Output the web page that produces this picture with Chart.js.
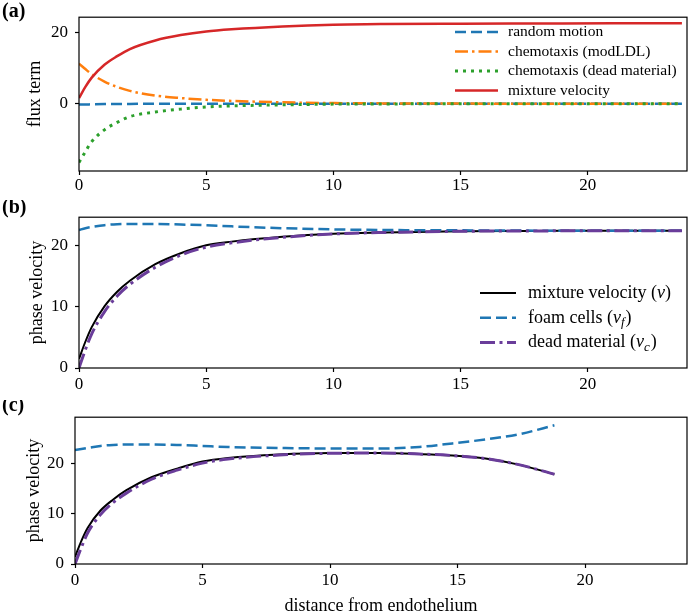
<!DOCTYPE html>
<html>
<head>
<meta charset="utf-8">
<script src="https://cdn.jsdelivr.net/npm/chart.js@4.4.1/dist/chart.umd.min.js"></script>
<style>
  body { margin: 0; background: #fff; }
  .panel { position: absolute; left: 0; width: 690px; }
</style>
</head>
<body>
<div class="panel" style="top:0;height:200px"><canvas id="chartA"></canvas></div>
<div class="panel" style="top:200px;height:200px"><canvas id="chartB"></canvas></div>
<div class="panel" style="top:400px;height:214px"><canvas id="chartC"></canvas></div>
<script>
// Panel (a): flux terms
const X_A = [0, 0.25, 0.5, 1, 1.5, 2, 3, 4, 5, 6, 8, 10, 12, 15, 18, 21, 23.7];
const RANDOM_MOTION = [-0.2, -0.2, -0.15, -0.1, -0.1, -0.05, 0, 0, 0, 0, 0, 0, 0, 0, 0, 0, 0];
const CHEMO_MODLDL = [11.2, 9.7, 8.3, 6.2, 4.7, 3.6, 2.3, 1.6, 1.1, 0.8, 0.4, 0.2, 0.1, 0.05, 0, 0, 0];
const CHEMO_DEAD = [-16.4, -13.4, -10.6, -7.3, -5.2, -3.6, -2.3, -1.5, -0.9, -0.6, -0.3, -0.1, -0.05, 0, 0, 0, 0];
const MIXTURE_A = [1.6, 4.7, 7.3, 10.9, 13.3, 15.3, 17.7, 19.2, 20.2, 20.8, 21.6, 22.1, 22.3, 22.4, 22.45, 22.5, 22.5];

// Panel (b): phase velocities
const X_B = [0, 0.25, 0.5, 1, 1.5, 2, 3, 4, 5, 6, 8, 10, 12, 15, 18, 21, 23.7];
const MIXTURE_B = [1.5, 4.3, 6.7, 10.1, 12.5, 14.3, 17.0, 18.8, 20.1, 20.7, 21.5, 22.0, 22.2, 22.4, 22.45, 22.5, 22.5];
const FOAM_B = [22.6, 22.9, 23.1, 23.4, 23.55, 23.6, 23.6, 23.5, 23.4, 23.2, 22.9, 22.7, 22.6, 22.55, 22.5, 22.5, 22.5];
const DEAD_B = [0, 3.0, 5.6, 9.2, 11.8, 13.7, 16.5, 18.5, 19.8, 20.5, 21.4, 21.95, 22.2, 22.4, 22.45, 22.5, 22.5];

// Panel (c): phase velocities, shorter domain
const X_C = [0, 0.25, 0.5, 1, 1.5, 2, 3, 4, 5, 6, 8, 10, 12, 13.5, 14.8, 16.1, 17.4, 18.8];
const MIXTURE_C = [1.4, 4.6, 7.2, 10.6, 12.8, 14.6, 17.2, 18.9, 20.3, 21.0, 21.7, 22.0, 22.0, 21.8, 21.5, 20.9, 19.7, 17.8];
const FOAM_C = [22.6, 22.8, 23.0, 23.4, 23.6, 23.7, 23.7, 23.6, 23.4, 23.2, 23.0, 22.9, 22.9, 23.2, 23.9, 24.7, 25.7, 27.5];
const DEAD_C = [0, 3.3, 6.2, 9.8, 12.2, 14.0, 16.8, 18.6, 20.0, 20.8, 21.6, 21.95, 22.0, 21.8, 21.5, 20.9, 19.7, 17.8];

const X_TICKS = [0, 5, 10, 15, 20];
const Y_TICKS_A = [0, 20];
const Y_TICKS_BC = [0, 10, 20];

const LABELS_A = ['random motion', 'chemotaxis (modLDL)', 'chemotaxis (dead material)', 'mixture velocity'];
const LABELS_BC = ['mixture velocity ($v$)', 'foam cells ($v_f$)', 'dead material ($v_c$)'];

const SERIF = "'Liberation Serif', 'Times New Roman', serif";
const BLUE = '#1f77b4', ORANGE = '#ff7f0e', GREEN = '#2ca02c', RED = '#d62728', PURPLE = '#6a3d9a';

function pts(xs, ys) {
  return xs.map((x, i) => ({ x: x, y: ys[i] }));
}

function line(label, xs, ys, color, width, dash, order) {
  return {
    label: label,
    data: pts(xs, ys),
    borderColor: color,
    borderWidth: width,
    borderDash: dash,
    pointRadius: 0,
    fill: false,
    cubicInterpolationMode: 'monotone',
    order: order
  };
}

// draws text with $..$ parts in italic, "_x" as subscript
function drawMathLabel(ctx, text, x, y, size) {
  text.split('$').forEach((part, i) => {
    if (i % 2 === 0) {
      ctx.font = size + 'px ' + SERIF;
      ctx.fillText(part, x, y);
      x += ctx.measureText(part).width;
    } else {
      const [base, sub] = part.split('_');
      ctx.font = 'italic ' + size + 'px ' + SERIF;
      ctx.fillText(base, x, y);
      x += ctx.measureText(base).width;
      if (sub) {
        ctx.font = 'italic ' + Math.round(size * 0.7) + 'px ' + SERIF;
        ctx.fillText(sub, x, y + size * 0.25);
        x += ctx.measureText(sub).width + 1;
      }
    }
  });
}

const framePlugin = {
  id: 'frame',
  afterDraw(chart) {
    const a = chart.chartArea, ctx = chart.ctx;
    ctx.save();
    ctx.strokeStyle = '#000';
    ctx.lineWidth = 1.2;
    ctx.strokeRect(a.left, a.top, a.right - a.left, a.bottom - a.top);
    ctx.restore();
  }
};

const legendPlugin = {
  id: 'insideLegend',
  afterDraw(chart, args, opts) {
    if (!opts.items) return;
    const ctx = chart.ctx;
    ctx.save();
    ctx.textBaseline = 'middle';
    opts.items.forEach((idx, row) => {
      const ds = chart.data.datasets[idx];
      const y = opts.top + row * opts.rowGap;
      ctx.strokeStyle = ds.borderColor;
      ctx.lineWidth = ds.borderWidth;
      ctx.setLineDash(ds.borderDash || []);
      ctx.beginPath();
      ctx.moveTo(opts.lineX, y);
      ctx.lineTo(opts.lineX + opts.lineLen, y);
      ctx.stroke();
      ctx.setLineDash([]);
      ctx.fillStyle = '#000';
      drawMathLabel(ctx, ds.label, opts.textX, y, opts.size);
    });
    ctx.restore();
  }
};

const panelLabelPlugin = {
  id: 'panelLabel',
  afterDraw(chart, args, opts) {
    const ctx = chart.ctx;
    ctx.save();
    ctx.font = 'bold 20px ' + SERIF;
    ctx.fillStyle = '#000';
    ctx.textBaseline = 'middle';
    ctx.fillText(opts.text, opts.x, opts.y);
    ctx.restore();
  }
};

Chart.register(framePlugin, legendPlugin, panelLabelPlugin);

function makeOptions(cfg) {
  const tickGrid = {
    display: true,
    drawOnChartArea: false,
    drawTicks: true,
    tickLength: 4,
    tickColor: '#000',
    tickWidth: 1.2
  };
  return {
    responsive: true,
    maintainAspectRatio: false,
    animation: false,
    layout: { padding: { top: cfg.padTop, right: cfg.padRight, left: 0, bottom: 0 } },
    plugins: {
      legend: { display: false },
      tooltip: { enabled: false },
      insideLegend: cfg.legend,
      panelLabel: cfg.panel
    },
    scales: {
      x: {
        type: 'linear',
        min: 0,
        max: cfg.xMax,
        grid: tickGrid,
        border: { display: false },
        afterBuildTicks: s => { s.ticks = X_TICKS.map(v => ({ value: v })); },
        afterFit: s => { s.height = cfg.xHeight; },
        ticks: { color: '#000', padding: cfg.xTickPad, maxRotation: 0, font: { family: SERIF, size: 17 } },
        title: {
          display: !!cfg.xTitle,
          text: cfg.xTitle || '',
          color: '#000',
          padding: { top: -3, bottom: -3 },
          font: { family: SERIF, size: 18 }
        }
      },
      y: {
        type: 'linear',
        min: cfg.yMin,
        max: cfg.yMax,
        grid: tickGrid,
        border: { display: false },
        afterBuildTicks: s => { s.ticks = cfg.yTicks.map(v => ({ value: v })); },
        afterFit: s => { s.width = cfg.yWidth; },
        ticks: { color: '#000', padding: 7, font: { family: SERIF, size: 17 } },
        title: {
          display: true,
          text: cfg.yTitle,
          color: '#000',
          padding: { top: cfg.yTitlePad, bottom: 0 },
          font: { family: SERIF, size: 18 }
        }
      }
    }
  };
}

new Chart(document.getElementById('chartA'), {
  type: 'line',
  data: {
    datasets: [
      line(LABELS_A[0], X_A, RANDOM_MOTION, BLUE, 2.5, [11, 5], 4),
      line(LABELS_A[1], X_A, CHEMO_MODLDL, ORANGE, 2.5, [13, 4, 2.5, 4], 3),
      line(LABELS_A[2], X_A, CHEMO_DEAD, GREEN, 3, [3, 5], 2),
      line(LABELS_A[3], X_A, MIXTURE_A, RED, 2.5, [], 1)
    ]
  },
  options: makeOptions({
    padTop: 14, padRight: 3, xMax: 23.9, xHeight: 29, xTickPad: 0, yWidth: 79,
    yMin: -18.8, yMax: 24.2, yTicks: Y_TICKS_A, yTitle: 'flux term', yTitlePad: 24,
    legend: { items: [0, 1, 2, 3], top: 32, rowGap: 19.5, lineX: 455, lineLen: 43, textX: 508, size: 15.5 },
    panel: { text: '(a)', x: 2, y: 12 }
  })
});

new Chart(document.getElementById('chartB'), {
  type: 'line',
  data: {
    datasets: [
      line(LABELS_BC[0], X_B, MIXTURE_B, '#000', 2, [], 3),
      line(LABELS_BC[1], X_B, FOAM_B, BLUE, 2.5, [11, 5], 2),
      line(LABELS_BC[2], X_B, DEAD_B, PURPLE, 3, [15, 4.5, 3, 4.5], 1)
    ]
  },
  options: makeOptions({
    padTop: 11, padRight: 3, xMax: 23.9, xHeight: 32, xTickPad: 2, yWidth: 79,
    yMin: 0, yMax: 24.7, yTicks: Y_TICKS_BC, yTitle: 'phase velocity', yTitlePad: 26,
    legend: { items: [0, 1, 2], top: 93, rowGap: 24.8, lineX: 480, lineLen: 36, textX: 528, size: 18 },
    panel: { text: '(b)', x: 2, y: 8 }
  })
});

new Chart(document.getElementById('chartC'), {
  type: 'line',
  data: {
    datasets: [
      line(LABELS_BC[0], X_C, MIXTURE_C, '#000', 2, [], 3),
      line(LABELS_BC[1], X_C, FOAM_C, BLUE, 2.5, [11, 5], 2),
      line(LABELS_BC[2], X_C, DEAD_C, PURPLE, 3, [15, 4.5, 3, 4.5], 1)
    ]
  },
  options: makeOptions({
    padTop: 7, padRight: 3, xMax: 24.0, xHeight: 50, xTickPad: 2, yWidth: 75,
    yMin: 0, yMax: 29.1, yTicks: Y_TICKS_BC, yTitle: 'phase velocity', yTitlePad: 23,
    legend: {},
    xTitle: 'distance from endothelium',
    panel: { text: '(c)', x: 2, y: 6 }
  })
});
</script>
</body>
</html>
